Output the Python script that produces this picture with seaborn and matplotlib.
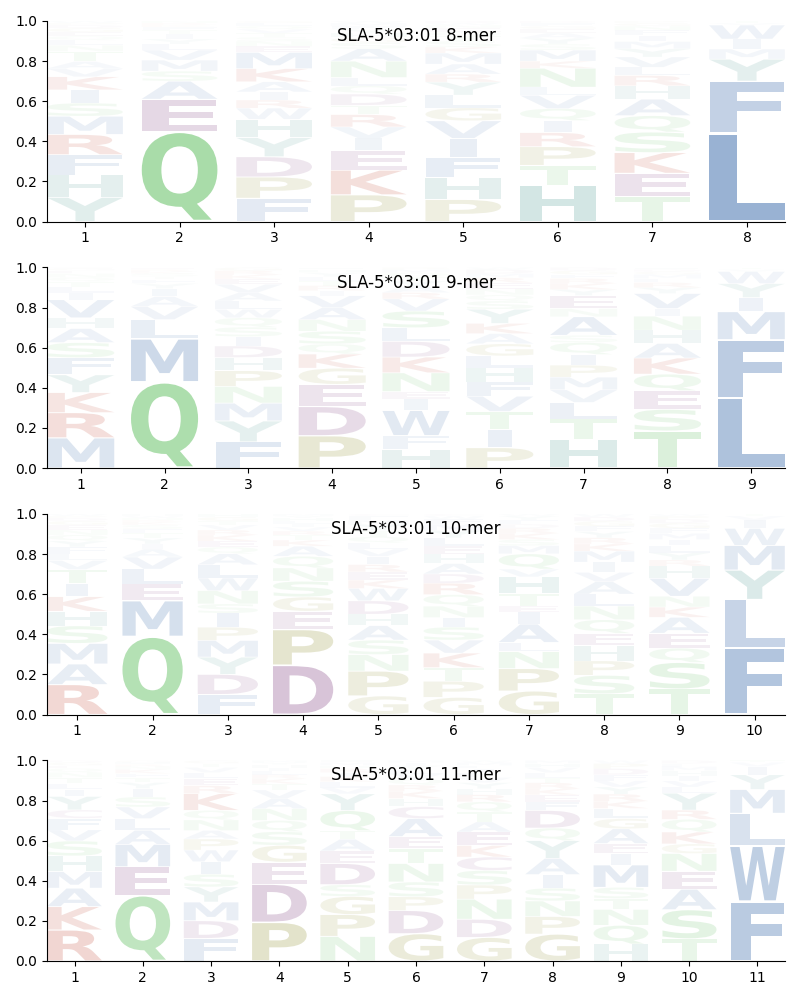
import matplotlib
matplotlib.use("Agg")
import matplotlib.pyplot as plt
import seaborn as sns
import numpy as np
from matplotlib.textpath import TextPath
from matplotlib.patches import PathPatch
from matplotlib.font_manager import FontProperties
from matplotlib.transforms import Affine2D

# ---------------- data (bottom-to-top order within each position) ----------------
titles = ["SLA-5*03:01 8-mer", "SLA-5*03:01 9-mer", "SLA-5*03:01 10-mer", "SLA-5*03:01 11-mer"]

freq_8mer = [
    {"Y": .12, "H": .11, "F": .10, "R": .10, "M": .09, "S": .065, "I": .065, "K": .065, "V": .04, "A": .035,
     "T": .05, "N": .03, "L": .025, "Q": .02, "E": .02, "G": .02, "D": .015, "P": .01, "W": .01},
    {"Q": .45, "E": .16, "A": .09, "S": .05, "M": .055, "V": .05, "L": .03, "Y": .025, "I": .025, "T": .02,
     "F": .015, "K": .01, "R": .01, "N": .01},
    {"F": .115, "P": .105, "D": .10, "Y": .095, "H": .09, "W": .055, "R": .04, "I": .04, "A": .05, "K": .065,
     "M": .08, "E": .03, "N": .025, "S": .02, "T": .02, "V": .02, "Q": .015, "L": .015, "G": .01},
    {"P": .13, "K": .12, "E": .095, "I": .06, "V": .055, "R": .06, "T": .045, "D": .055, "Q": .04, "L": .04,
     "N": .08, "A": .06, "S": .03, "G": .025, "H": .02, "Y": .02, "F": .015, "M": .015, "W": .01},
    {"P": .11, "H": .11, "F": .10, "I": .095, "V": .088, "G": .065, "L": .063, "Y": .065, "R": .04, "A": .05,
     "M": .055, "K": .03, "S": .03, "T": .025, "Q": .02, "E": .02, "N": .015, "W": .01, "D": .01},
    {"H": .18, "T": .10, "P": .093, "R": .07, "I": .06, "Q": .06, "V": .066, "L": .04, "N": .095, "K": .035,
     "M": .055, "S": .03, "Y": .03, "A": .025, "E": .02, "G": .015, "F": .015, "D": .01},
    {"T": .12, "E": .115, "K": .10, "S": .10, "Q": .08, "A": .08, "H": .065, "R": .05, "L": .04, "V": .05,
     "Y": .04, "M": .035, "I": .03, "F": .025, "N": .02, "G": .015, "P": .01},
    {"L": .44, "F": .26, "Y": .11, "M": .05, "I": .05, "W": .07, "V": .01, "T": .01},
]

freq_9mer = [
    {"M": .15, "R": .125, "K": .10, "Y": .088, "F": .085, "S": .075, "A": .07, "H": .053, "V": .09, "I": .035,
     "L": .03, "T": .025, "Q": .02, "N": .02, "E": .015, "G": .01, "D": .005},
    {"Q": .43, "M": .215, "L": .096, "V": .065, "A": .05, "I": .04, "Y": .025, "F": .02, "T": .015, "S": .015,
     "K": .01, "R": .01, "E": .01},
    {"F": .125, "Y": .10, "M": .085, "N": .08, "P": .075, "H": .063, "D": .055, "I": .045, "S": .045, "Q": .045,
     "W": .04, "L": .04, "A": .04, "V": .04, "E": .025, "K": .02, "R": .02, "G": .015},
    {"P": .16, "D": .145, "E": .11, "G": .08, "K": .07, "Q": .05, "S": .063, "N": .058, "A": .06, "V": .058,
     "I": .025, "R": .025, "T": .025, "L": .02, "Y": .02, "H": .015, "F": .01},
    {"H": .09, "F": .065, "W": .12, "I": .055, "E": .035, "N": .09, "K": .075, "D": .075, "L": .065, "S": .08,
     "V": .058, "R": .03, "A": .03, "Y": .025, "T": .02, "Q": .02, "M": .015, "P": .01},
    {"P": .10, "I": .09, "T": .088, "V": .075, "F": .07, "H": .07, "L": .058, "G": .06, "A": .05, "K": .05,
     "Y": .07, "S": .04, "Q": .03, "N": .03, "E": .03, "R": .025, "M": .02, "D": .02, "W": .01},
    {"H": .145, "T": .10, "L": .083, "V": .063, "M": .063, "P": .06, "I": .053, "Q": .06, "S": .036, "A": .093,
     "N": .04, "E": .066, "Y": .03, "K": .03, "R": .025, "F": .02, "G": .02, "D": .015},
    {"T": .185, "S": .108, "E": .093, "Q": .083, "K": .08, "A": .073, "H": .066, "N": .07, "I": .038, "V": .075,
     "Y": .03, "R": .025, "L": .02, "M": .02, "G": .015, "D": .01, "F": .01},
    {"L": .35, "F": .29, "M": .14, "I": .07, "Y": .07, "W": .06, "V": .01, "T": .01},
]

freq_10mer = [
    {"R": .15, "A": .103, "M": .103, "S": .088, "H": .073, "K": .073, "I": .066, "T": .07, "V": .045, "L": .033,
     "F": .035, "Y": .03, "Q": .03, "N": .025, "E": .025, "G": .02, "D": .015, "P": .01, "W": .01},
    {"Q": .39, "M": .178, "E": .083, "L": .075, "V": .06, "A": .04, "I": .025, "Y": .03, "T": .025, "F": .02,
     "S": .02, "K": .015, "R": .01, "N": .01, "W": .01, "H": .01},
    {"F": .10, "D": .10, "Y": .086, "M": .083, "P": .066, "I": .07, "S": .046, "N": .066, "W": .063, "L": .066,
     "A": .055, "Q": .033, "E": .03, "K": .03, "R": .025, "V": .025, "T": .02, "G": .02, "H": .015},
    {"D": .245, "P": .177, "E": .091, "G": .071, "S": .078, "N": .066, "Q": .058, "A": .05, "K": .03, "T": .025,
     "R": .02, "V": .02, "I": .015, "L": .015, "H": .015, "Y": .01, "M": .01},
    {"G": .09, "P": .12, "N": .08, "S": .07, "A": .07, "H": .055, "D": .065, "W": .06, "K": .04, "E": .04,
     "R": .035, "I": .04, "V": .035, "L": .03, "Q": .03, "T": .03, "Y": .03, "M": .02, "F": .02, "C": .01},
    {"G": .083, "P": .078, "T": .066, "K": .07, "V": .063, "S": .063, "I": .046, "N": .055, "Q": .056, "R": .055,
     "D": .045, "A": .05, "H": .045, "E": .04, "L": .04, "Y": .035, "M": .03, "F": .025, "W": .015, "C": .01},
    {"G": .115, "P": .11, "N": .083, "L": .045, "A": .09, "I": .058, "E": .03, "T": .06, "H": .083, "V": .038,
     "Q": .075, "M": .04, "S": .03, "K": .03, "R": .025, "D": .02, "F": .02, "Y": .02, "W": .01},
    {"T": .10, "S": .09, "P": .07, "H": .073, "E": .06, "Q": .066, "N": .066, "L": .058, "A": .06, "V": .045,
     "I": .05, "M": .053, "K": .035, "R": .03, "Y": .03, "F": .025, "G": .025, "D": .02, "W": .015},
    {"T": .125, "S": .13, "Q": .07, "E": .073, "A": .078, "K": .05, "N": .053, "V": .088, "H": .06, "R": .03,
     "Y": .035, "L": .035, "I": .03, "M": .03, "F": .025, "G": .025, "D": .02, "P": .015, "W": .01},
    {"F": .323, "L": .237, "Y": .143, "M": .12, "W": .083, "I": .04, "V": .02, "T": .01},
]

freq_11mer = [
    {"R": .155, "K": .117, "A": .092, "M": .083, "H": .078, "S": .075, "V": .055, "F": .058, "C": .042, "Y": .067,
     "I": .035, "L": .03, "T": .03, "N": .025, "Q": .02, "E": .015, "G": .015, "D": .01},
    {"Q": .328, "E": .142, "M": .112, "A": .07, "L": .058, "V": .058, "S": .05, "I": .042, "Y": .03, "T": .025,
     "F": .02, "K": .02, "N": .015, "R": .01, "H": .01, "G": .01},
    {"F": .112, "D": .088, "M": .093, "Y": .075, "S": .063, "I": .062, "W": .058, "P": .055, "A": .042, "N": .053,
     "Q": .047, "K": .083, "R": .04, "E": .035, "L": .03, "V": .025, "T": .02, "G": .015},
    {"P": .19, "D": .188, "E": .108, "G": .083, "S": .067, "Q": .055, "N": .058, "A": .05, "V": .042, "T": .03,
     "K": .025, "R": .02, "L": .02, "I": .015, "H": .015, "Y": .01, "M": .01},
    {"N": .122, "P": .108, "G": .09, "S": .058, "D": .105, "E": .062, "A": .058, "T": .042, "Q": .10, "Y": .083,
     "V": .03, "L": .03, "K": .025, "I": .02, "R": .02, "H": .015, "M": .015, "F": .01},
    {"G": .133, "D": .113, "P": .067, "S": .072, "N": .09, "T": .073, "E": .058, "A": .088, "C": .058, "H": .04,
     "K": .035, "R": .03, "Q": .03, "V": .025, "L": .02, "Y": .02, "I": .015, "M": .01},
    {"G": .117, "D": .09, "N": .10, "P": .07, "S": .072, "C": .067, "K": .057, "E": .067, "A": .05, "T": .05,
     "Q": .05, "R": .035, "H": .03, "Y": .03, "V": .025, "L": .025, "I": .02, "F": .015, "M": .015, "W": .01},
    {"G": .133, "P": .087, "N": .077, "S": .063, "I": .067, "A": .08, "Y": .088, "Q": .062, "D": .087, "F": .042,
     "E": .035, "K": .03, "R": .03, "T": .025, "L": .025, "V": .025, "H": .02, "M": .015},
    {"H": .083, "Q": .092, "N": .078, "T": .053, "S": .055, "M": .11, "I": .055, "E": .05, "A": .072, "G": .05,
     "L": .05, "K": .035, "R": .035, "Y": .035, "V": .03, "F": .03, "D": .03, "P": .025, "W": .015},
    {"T": .108, "S": .143, "A": .10, "E": .088, "N": .087, "G": .047, "K": .058, "Q": .062, "R": .045, "Y": .083,
     "L": .03, "V": .03, "I": .025, "H": .025, "M": .02, "F": .015, "D": .015},
    {"F": .292, "W": .272, "L": .16, "M": .117, "Y": .072, "I": .04, "V": .02, "T": .01},
]

panels = [freq_8mer, freq_9mer, freq_10mer, freq_11mer]

# ---------------- styling ----------------
group_colors = {
    "hydrophobic": (150 / 255, 176 / 255, 210 / 255),
    "polar": (168 / 255, 220 / 255, 168 / 255),
    "acidic": (183 / 255, 146 / 255, 183 / 255),
    "special": (190 / 255, 190 / 255, 133 / 255),
    "basic": (216 / 255, 137 / 255, 125 / 255),
    "aromatic_polar": (146 / 255, 192 / 255, 187 / 255),
}
aa_group = {}
for a in "AVLIMFW":
    aa_group[a] = "hydrophobic"
for a in "STNQ":
    aa_group[a] = "polar"
for a in "DEC":
    aa_group[a] = "acidic"
for a in "PG":
    aa_group[a] = "special"
for a in "KR":
    aa_group[a] = "basic"
for a in "HY":
    aa_group[a] = "aromatic_polar"

sns.set_style("ticks")
plt.rcParams["font.family"] = ["DejaVu Sans"]
plt.rcParams.update({
    "text.color": "black",
    "axes.edgecolor": "black",
    "axes.labelcolor": "black",
    "xtick.color": "black",
    "ytick.color": "black",
    "axes.linewidth": 0.8,
    "xtick.major.width": 0.8,
    "ytick.major.width": 0.8,
    "xtick.major.size": 3.5,
    "ytick.major.size": 3.5,
})

FP = FontProperties(family="DejaVu Sans", weight="bold")
_cache = {}


def glyph(ch):
    if ch not in _cache:
        p = TextPath((0, 0), ch, size=1, prop=FP)
        _cache[ch] = (p, p.get_extents())
    return _cache[ch]


WIDTH = 0.8
VPAD = 0.04
_, E_EXT = glyph("E")
MAX_SX = WIDTH / E_EXT.width


def draw_letter(ax, ch, x, y0, h, color, alpha):
    path, ext = glyph(ch)
    sx = min(WIDTH / ext.width, MAX_SX)
    w = ext.width * sx
    hh = h * (1 - VPAD)
    t = (Affine2D().translate(-ext.x0, -ext.y0)
         .scale(sx, hh / ext.height)
         .translate(x - w / 2, y0 + h * VPAD / 2))
    ax.add_patch(PathPatch(t.transform_path(path), facecolor=color,
                           edgecolor="none", alpha=alpha, lw=0))


fig, axes = plt.subplots(4, 1, figsize=(8, 10), dpi=100)
fig.subplots_adjust(left=0.059, right=0.981, top=0.979, bottom=0.039, hspace=0.229)

for ax, data, title in zip(axes, panels, titles):
    L = len(data)
    for i, col in enumerate(data, start=1):
        tot = sum(col.values())
        y = 0.0
        for aa, v in col.items():
            f = v / tot
            draw_letter(ax, aa, i, y, f, group_colors[aa_group[aa]],
                        float(np.clip(2.2 * f, 0.0, 1.0)))
            y += f
    ax.set_xlim(0.6, L + 0.4)
    ax.set_ylim(0, 1)
    ax.set_xticks(range(1, L + 1))
    ax.set_yticks(np.arange(0, 1.01, 0.2))
    ax.set_yticklabels([f"{t:.1f}" for t in np.arange(0, 1.01, 0.2)])
    ax.tick_params(labelsize=10, colors="black")
    ax.text(0.5, 0.925, title, transform=ax.transAxes, ha="center", va="center",
            fontsize=12, color="black")
    sns.despine(ax=ax)

fig.savefig("out.png", dpi=100)
